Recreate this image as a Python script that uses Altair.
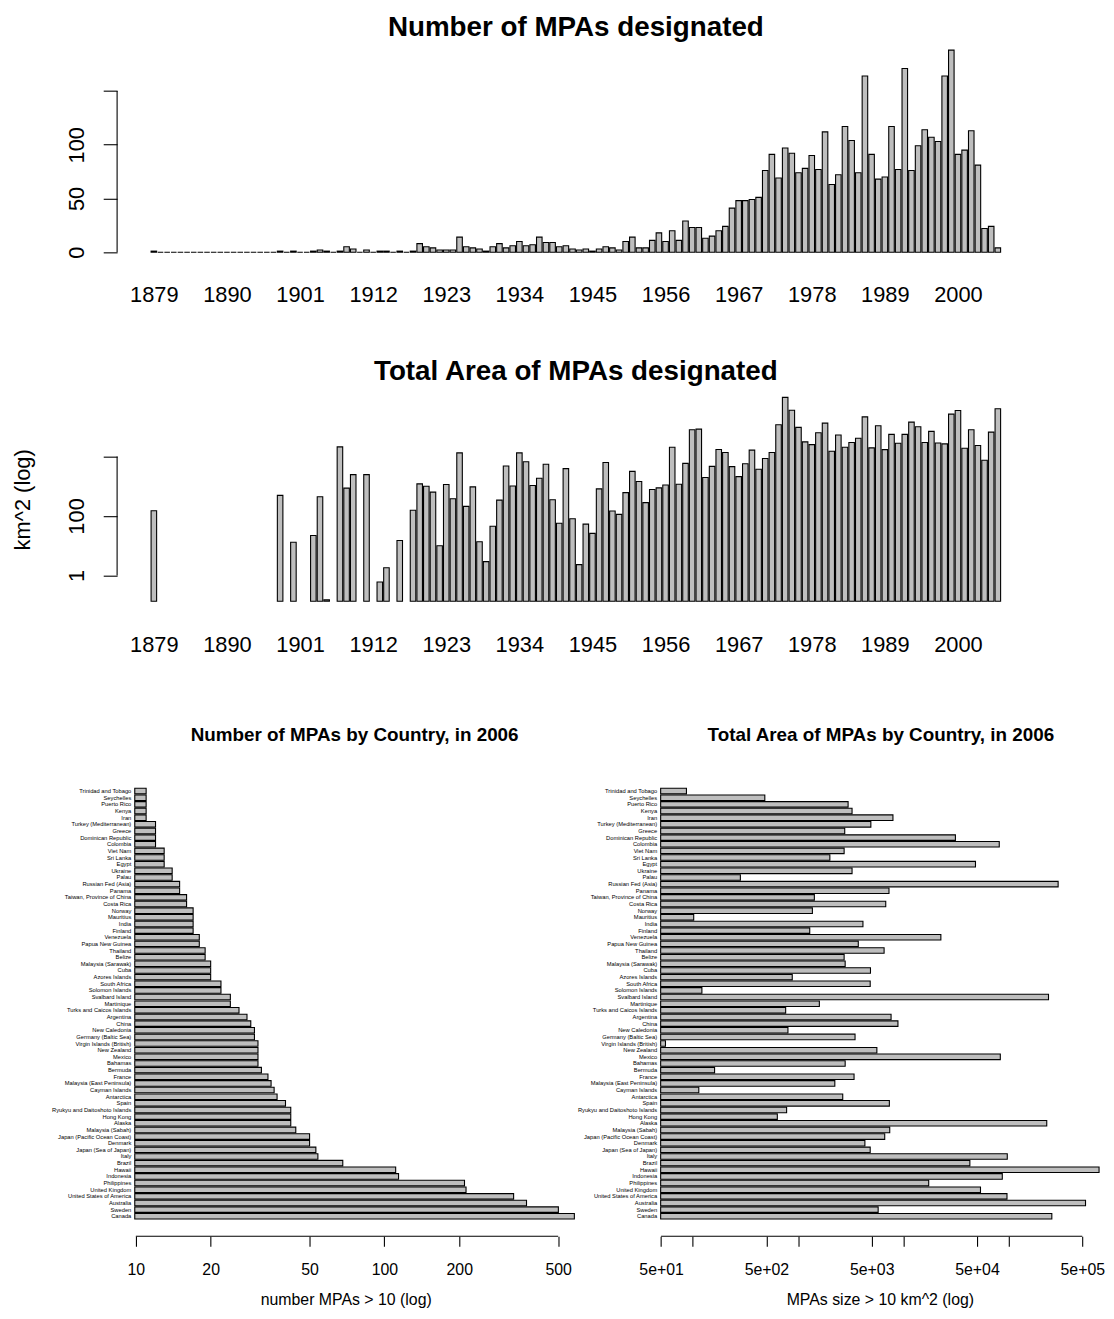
import math
import altair as alt
import pandas as pd

# ---------------- data ----------------
years = list(range(1879, 2007))

# number of MPAs designated per year (1879 .. 2006)
mpa_counts = [
    1, 0, 0, 0, 0, 0, 0, 0, 0, 0,          # 1879-1888
    0, 0, 0, 0, 0, 0, 0, 0, 0, 1,          # 1889-1898
    0, 1, 0, 0, 1, 2, 1, 0, 1, 5,          # 1899-1908
    3, 0, 2, 0, 1, 1, 0, 1, 0, 1,          # 1909-1918
    8, 5, 4, 2, 2, 2, 14, 5, 4, 3,         # 1919-1928
    1, 5, 8, 4, 6, 10, 6, 7, 14, 9,        # 1929-1938
    9, 5, 6, 3, 2, 3, 1, 3, 5, 4,          # 1939-1948
    2, 10, 14, 4, 4, 11, 18, 10, 20, 11,   # 1949-1958
    29, 23, 23, 13, 15, 20, 24, 41, 48, 48,  # 1959-1968
    49, 51, 76, 91, 69, 97, 92, 74, 78, 90,  # 1969-1978
    77, 112, 63, 72, 117, 104, 74, 164, 91, 68,  # 1979-1988
    70, 117, 77, 171, 76, 99, 114, 107, 103, 164,  # 1989-1998
    188, 91, 95, 113, 81, 22, 24, 4,       # 1999-2006
]

# total area (km^2) designated per year, 0 = none
mpa_area = [
    150, 0, 0, 0, 0, 0, 0, 0, 0, 0,
    0, 0, 0, 0, 0, 0, 0, 0, 0, 490,
    0, 13, 0, 0, 22, 440, 0.15, 0, 21000, 860,
    2450, 0, 2450, 0, 0.6, 1.8, 0, 15, 0, 155,
    1200, 1000, 630, 10, 1140, 380, 13200, 210, 950, 13.5,
    2.9, 45, 340, 4800, 1020, 13200, 6600, 1050, 1860, 5500,
    350, 57, 3900, 80, 2.3, 53, 26, 810, 6300, 147,
    113, 610, 3160, 1440, 280, 770, 880, 1100, 20400, 1170,
    5860, 79000, 83000, 1950, 4640, 17100, 13600, 4540, 2100, 5700,
    16300, 3700, 8500, 13600, 117000, 970000, 360000, 95000, 31000, 25000,
    63000, 132000, 15000, 53000, 20400, 29300, 41000, 215000, 19500, 108000,
    17000, 55500, 27800, 55500, 143000, 100000, 29300, 70000, 28500, 26500,
    265000, 350000, 19000, 79000, 23300, 7500, 66000, 400000,
]
assert len(mpa_counts) == len(years) == len(mpa_area)

# countries, listed top to bottom
countries = [
    "Trinidad and Tobago", "Seychelles", "Puerto Rico", "Kenya", "Iran",
    "Turkey (Mediterranean)", "Greece", "Dominican Republic", "Colombia", "Viet Nam",
    "Sri Lanka", "Egypt", "Ukraine", "Palau", "Russian Fed (Asia)",
    "Panama", "Taiwan, Province of China", "Costa Rica", "Norway", "Mauritius",
    "India", "Finland", "Venezuela", "Papua New Guinea", "Thailand",
    "Belize", "Malaysia (Sarawak)", "Cuba", "Azores Islands", "South Africa",
    "Solomon Islands", "Svalbard Island", "Martinique", "Turks and Caicos Islands", "Argentina",
    "China", "New Caledonia", "Germany (Baltic Sea)", "Virgin Islands (British)", "New Zealand",
    "Mexico", "Bahamas", "Bermuda", "France", "Malaysia (East Peninsula)",
    "Cayman Islands", "Antarctica", "Spain", "Ryukyu and Daitoshoto Islands", "Hong Kong",
    "Alaska", "Malaysia (Sabah)", "Japan (Pacific Ocean Coast)", "Denmark", "Japan (Sea of Japan)",
    "Italy", "Brazil", "Hawaii", "Indonesia", "Philippines",
    "United Kingdom", "United States of America", "Australia", "Sweden", "Canada",
]
country_counts = [
    11, 11, 11, 11, 11,
    12, 12, 12, 12, 13,
    13, 13, 14, 14, 15,
    15, 16, 16, 17, 17,
    17, 17, 18, 18, 19,
    19, 20, 20, 20, 22,
    22, 24, 24, 26, 28,
    29, 30, 30, 31, 31,
    31, 31, 32, 34, 35,
    36, 37, 40, 42, 42,
    42, 44, 50, 50, 53,
    54, 68, 111, 114, 210,
    213, 331, 373, 501, 581,
]
country_area = [
    87, 483, 2985, 3255, 7960,
    4910, 2773, 31200, 81400, 2737,
    2003, 48400, 3255, 283, 295000,
    7300, 1427, 6800, 1367, 102,
    4130, 1290, 22700, 3730, 6560,
    2737, 2800, 4870, 880, 4840,
    122, 239000, 1592, 762, 7640,
    8880, 801, 3475, 55, 5600,
    83300, 2800, 161, 3400, 2233,
    114, 2655, 7360, 778, 635,
    230000, 7420, 6650, 4310, 4840,
    97000, 42800, 722000, 87000, 17400,
    54000, 96400, 537000, 5760, 257000,
]
assert len(countries) == len(country_counts) == len(country_area)

titles = ["Number of MPAs designated", "Total Area of MPAs designated",
          "Number of MPAs by Country, in 2006", "Total Area of MPAs by Country, in 2006"]

year_label_ticks = years[::11]
count_ticks = [0, 50, 100, 150]
count_tick_labels = ["0", "50", "100", ""]
area_year_ticks = [1, 100, 10000]
area_year_tick_labels = ["1", "100", ""]
n_ticks = [10, 20, 50, 100, 200, 500]
n_tick_labels = ["10", "20", "50", "100", "200", "500"]
a_ticks = [50, 100, 500, 1000, 5000, 10000, 50000, 100000, 500000]
a_tick_labels = ["5e+01", "", "5e+02", "", "5e+03", "", "5e+04", "", "5e+05"]

# ---------------- style ----------------
FONT = "Liberation Sans"
FILL = "#BEBEBE"
SW = 1.1


def label_expr(values, labels):
    expr = "''"
    for v, l in reversed(list(zip(values, labels))):
        expr = f"datum.value == {v} ? '{l}' : ({expr})"
    return expr


df = pd.DataFrame({"year": years, "count": mpa_counts, "area": mpa_area})
nc = len(countries)
# R horizontal barplot: first bar at the bottom, width 1, space 0.2
dfc = pd.DataFrame({"country": countries, "n": country_counts, "area": country_area,
                    "pos": [0.7 + 1.2 * (nc - 1 - k) for k in range(nc)]})
ylim_lo, ylim_hi = 0.2, 1.2 * nc
ey = 0.04 * (ylim_hi - ylim_lo)
ydomB = [ylim_lo - ey, ylim_hi + ey]

# R barplot geometry along years: width 1, space 0.2, 4% axis extension
half = 0.5 / 1.2
x_lo, x_hi = years[0] - half, years[-1] + half
ext = 0.04 * (x_hi - x_lo)
xdom = [x_lo - ext, x_hi + ext]

W = 925
H1 = 220
H2 = 222
GAP = 130          # gap between plot areas of row 1 and row 2
EXTRA = 33         # extra room under row 2 (the gap above the bottom row is larger)
HB = 469
WL = 461
WR = 442

cmax = max(mpa_counts)
ydom1 = [-0.04 * cmax, 1.04 * cmax]

pos_area = [a for a in mpa_area if a > 0]
abase = 0.9 * min(pos_area)
l0, l1 = math.log10(abase), math.log10(max(pos_area))
e2 = 0.04 * (l1 - l0)
lo2, hi2 = l0 - e2, l1 + e2
px_dec = H2 / (hi2 - lo2)
ydom2 = [10 ** (lo2 - EXTRA / px_dec), 10 ** hi2]


def title_layer(text, size, x, y):
    return alt.Chart(pd.DataFrame({"t": [text]})).mark_text(
        font=FONT, fontSize=size, fontWeight="bold", color="black", align="center",
        baseline="alphabetic"
    ).encode(text="t:N", x=alt.value(x), y=alt.value(y))


def year_axis(pad):
    return alt.Axis(values=year_label_ticks, format="d", ticks=False, tickSize=0, domain=False,
                    grid=False, labelFont=FONT, labelFontSize=22, labelColor="black",
                    labelPadding=pad, labelBaseline="middle", labelFlush=False,
                    labelOverlap=False, title=None)


def yaxis(values, labels, title=None, **kw):
    return alt.Axis(values=values, labelExpr=label_expr(values, labels), domain=False, grid=False,
                    tickSize=14, tickColor="black", tickWidth=SW, labelAngle=270,
                    labelAlign="center", labelBaseline="middle", labelPadding=27,
                    labelFont=FONT, labelFontSize=22, labelColor="black", labelFlush=False,
                    labelOverlap=False, title=title, **kw)


# ---------- top: number per year ----------
xsc = alt.Scale(domain=xdom, nice=False, zero=False)
yax1 = yaxis(count_ticks, count_tick_labels)
ysc1 = alt.Scale(domain=ydom1, nice=False, zero=False)
bars1 = alt.Chart(df).transform_calculate(
    x0=f"datum.year - {half}", x1=f"datum.year + {half}"
).mark_rect(fill=FILL, stroke="black", strokeWidth=SW).encode(
    x=alt.X("x0:Q", scale=xsc, axis=year_axis(35)),
    x2="x1:Q",
    y=alt.Y("count:Q", scale=ysc1, axis=yax1),
    y2=alt.datum(0),
)
rule1 = alt.Chart(pd.DataFrame({"lo": [count_ticks[0]], "hi": [count_ticks[-1]]})).mark_rule(
    color="black", strokeWidth=SW).encode(
    y=alt.Y("lo:Q", scale=ysc1, axis=yax1), y2="hi:Q", x=alt.value(0))
top = alt.layer(bars1, rule1, title_layer(titles[0], 28, W / 2, -6.5)).properties(
    width=W, height=H1)

# ---------- middle: area per year (log) ----------
yax2 = yaxis(area_year_ticks, area_year_tick_labels, title="km^2 (log)",
             titleX=-95, titleY=H2 / 2, titleAngle=270, titleAlign="center",
             titleBaseline="middle", titleFont=FONT, titleFontSize=22,
             titleFontWeight="normal", titleColor="black")
ysc2 = alt.Scale(type="log", domain=ydom2, nice=False)
bars2 = alt.Chart(df).transform_filter("datum.area > 0").transform_calculate(
    x0=f"datum.year - {half}", x1=f"datum.year + {half}"
).mark_rect(fill=FILL, stroke="black", strokeWidth=SW).encode(
    x=alt.X("x0:Q", scale=xsc, axis=year_axis(35 - EXTRA)),
    x2="x1:Q",
    y=alt.Y("area:Q", scale=ysc2, axis=yax2),
    y2=alt.datum(abase),
)
rule2 = alt.Chart(pd.DataFrame({"lo": [area_year_ticks[0]], "hi": [area_year_ticks[-1]]})).mark_rule(
    color="black", strokeWidth=SW).encode(
    y=alt.Y("lo:Q", scale=ysc2, axis=yax2), y2="hi:Q", x=alt.value(0))
mid = alt.layer(bars2, rule2, title_layer(titles[1], 28, W / 2, -9.5)).properties(
    width=W, height=H2 + EXTRA)

# ---------- bottom charts ----------
ysc = alt.Scale(domain=ydomB, nice=False, zero=False)


def xaxis_bottom(values, labels, title):
    return alt.Axis(values=values, labelExpr=label_expr(values, labels), domain=False, grid=False,
                    tickSize=10, tickColor="black", tickWidth=SW, labelFont=FONT, labelFontSize=16,
                    labelColor="black", labelPadding=24, labelBaseline="middle", labelFlush=False,
                    labelOverlap=False, title=title, titleFont=FONT, titleFontSize=16,
                    titleFontWeight="normal", titleColor="black", titleY=64,
                    titleBaseline="middle")


def country_layers(field, base, dom, ticks, tick_labels, xtitle):
    xs = alt.Scale(type="log", domain=dom, nice=False)
    xa = xaxis_bottom(ticks, tick_labels, xtitle)
    bars = alt.Chart(dfc).transform_calculate(
        y0="datum.pos - 0.5", y1="datum.pos + 0.5"
    ).mark_rect(fill=FILL, stroke="black", strokeWidth=SW).encode(
        y=alt.Y("y0:Q", scale=ysc, axis=None),
        y2="y1:Q",
        x=alt.X(f"{field}:Q", scale=xs, axis=xa),
        x2=alt.datum(base),
    )
    text = alt.Chart(dfc).transform_calculate(bx=f"{base}").mark_text(
        align="right", baseline="middle", dx=-3.5, font=FONT, fontSize=5.8, color="black"
    ).encode(
        y=alt.Y("pos:Q", scale=ysc, axis=None),
        x=alt.X("bx:Q", scale=xs, axis=xa), text="country:N")
    rule = alt.Chart(pd.DataFrame({"lo": [ticks[0]], "hi": [ticks[-1]]})).mark_rule(
        color="black", strokeWidth=SW).encode(
        x=alt.X("lo:Q", scale=xs, axis=xa), x2="hi:Q", y=alt.value(HB))
    return [bars, text, rule]


# left: number by country
nbase = 0.9 * min(country_counts)
nmax = max(country_counts)
left_gap = 17.8  # room between the plot edge and the bar base
dpx = (WL - left_gap) / (math.log10(nmax) - math.log10(nbase))
ndom = [10 ** (math.log10(nbase) - left_gap / dpx), nmax]
bl = alt.layer(
    *country_layers("n", nbase, ndom, n_ticks, n_tick_labels, "number MPAs > 10 (log)"),
    title_layer(titles[2], 19, WL / 2 + 9, -30)
).properties(width=WL, height=HB)

# right: area by country
cabase = 0.9 * min(country_area)
cadom = [cabase, max(country_area)]
br = alt.layer(
    *country_layers("area", cabase, cadom, a_ticks, a_tick_labels, "MPAs size > 10 km^2 (log)"),
    title_layer(titles[3], 19, WR / 2 + 1, -30)
).properties(width=WR, height=HB)

bottom = alt.hconcat(bl, br, spacing=87, bounds="flush")
chart = alt.vconcat(top, mid, bottom, spacing=GAP, bounds="flush").properties(
    padding={"left": 3, "top": 0, "right": 0, "bottom": 0}
).configure(background="white").configure_view(stroke="transparent")

chart.save("out.html", embed_options={"renderer": "svg", "actions": False})
